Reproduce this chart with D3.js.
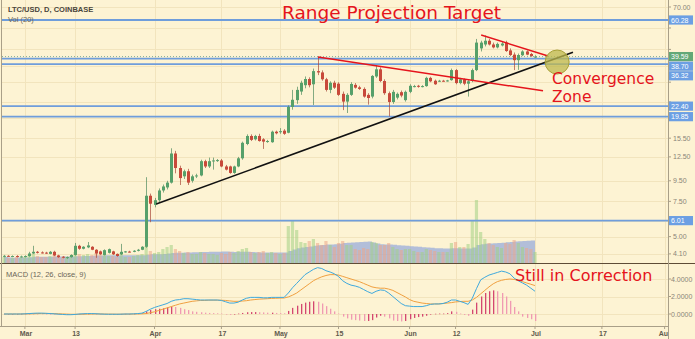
<!DOCTYPE html>
<html><head><meta charset="utf-8">
<script src="https://cdn.jsdelivr.net/npm/d3@7"></script>
<style>html,body{margin:0;padding:0;background:#fdf3d3;}svg{display:block;}</style>
</head><body><svg id="c" width="695" height="339"></svg>
<script>
// ---------- DATA ----------
const startDate = new Date(2017, 1, 24); // Feb 24, 2017 (daily candles to Jul 1)
const open  = [4.00,4.01,3.99,4.00,3.97,3.98,4.00,4.12,4.20,4.17,4.16,4.10,4.20,4.03,3.97,3.93,3.95,4.05,4.50,4.35,4.42,4.45,4.30,4.22,4.05,4.15,4.22,4.10,4.08,4.20,4.21,4.20,4.25,4.30,
4.45,8.00,7.20,7.60,8.50,8.80,9.30,13.00,11.00,10.00,10.60,9.50,10.00,10.10,11.90,11.20,11.95,12.00,12.00,11.20,11.20,10.40,11.20,12.30,14.50,15.90,15.30,15.90,15.30,14.90,14.80,16.70,
16.60,16.90,16.50,22.20,24.00,26.50,28.50,30.60,28.80,33.50,33.00,30.50,27.00,29.30,29.00,25.80,23.60,25.50,28.60,27.80,27.30,25.50,25.00,31.50,34.20,29.90,26.00,23.50,24.70,26.30,24.00,
26.40,28.10,28.30,28.00,28.20,31.00,30.00,29.80,30.00,29.90,30.20,33.90,29.20,30.50,29.00,30.00,33.90,43.50,45.50,47.50,45.50,44.00,45.00,46.50,42.50,40.50,38.00,40.20,42.00,40.80,39.30];
const high  = [4.05,4.04,4.03,4.04,4.02,4.03,4.20,4.50,4.24,4.22,4.20,4.24,4.25,4.06,4.00,3.98,4.08,4.65,4.55,4.48,4.70,4.48,4.33,4.26,4.32,4.36,4.25,4.12,4.60,4.24,4.25,4.28,4.34,4.48,
9.90,8.20,7.80,8.70,9.10,9.50,13.80,13.40,11.30,10.80,10.90,10.20,10.30,12.10,12.10,12.40,12.40,12.20,12.20,11.40,11.30,11.30,12.50,14.90,16.20,16.20,16.10,16.30,15.50,15.20,16.90,16.90,
17.40,17.20,22.60,27.00,28.00,30.00,31.50,31.20,34.50,39.50,33.80,31.00,29.80,30.00,29.50,26.50,26.00,29.50,29.20,28.30,27.80,26.00,32.00,35.80,35.00,30.50,26.50,27.00,26.20,26.80,26.80,
28.80,28.60,28.60,28.50,31.40,31.40,30.40,30.30,30.30,30.30,34.50,34.30,31.00,30.80,30.20,34.50,48.50,47.50,50.50,48.50,46.50,46.50,46.80,47.50,43.50,41.50,41.00,42.60,42.50,41.30,40.20];
const low   = [3.95,3.96,3.95,3.94,3.93,3.94,3.97,4.10,4.12,4.12,4.10,4.08,4.00,3.92,3.90,3.88,3.93,4.02,4.30,4.32,4.38,4.28,3.92,4.05,4.03,4.12,4.05,3.97,4.05,4.16,4.17,4.18,4.22,4.28,
4.40,5.90,7.00,7.45,8.30,8.60,9.20,10.35,9.05,9.70,9.05,9.30,9.80,10.00,11.00,11.00,10.80,11.80,11.10,10.70,10.30,10.30,11.10,12.10,14.30,15.00,15.10,14.90,13.70,14.70,14.70,16.20,
16.30,16.10,16.40,21.50,23.00,25.50,27.50,27.80,22.70,32.00,30.00,26.50,26.00,27.30,25.20,21.40,20.70,25.20,27.40,27.00,24.70,22.80,24.50,31.00,29.50,25.50,19.90,23.00,24.20,24.80,23.60,
26.00,27.80,27.70,27.80,28.00,29.50,28.60,29.60,29.70,29.70,30.00,28.80,28.80,28.50,25.00,29.50,33.50,42.00,44.50,45.00,43.50,43.50,44.50,41.80,39.80,33.90,34.00,39.80,40.20,39.50,39.00];
const close = [4.01,3.99,4.00,3.97,3.98,4.00,4.12,4.20,4.17,4.16,4.14,4.20,4.03,3.95,3.93,3.95,4.05,4.50,4.35,4.45,4.52,4.30,4.12,4.08,4.28,4.33,4.08,4.00,4.20,4.22,4.20,4.25,4.30,4.45,
8.00,7.30,7.60,8.50,8.90,9.30,13.00,11.00,9.80,10.60,9.30,10.00,10.10,11.90,11.20,11.90,12.00,12.05,11.20,10.80,10.40,11.20,12.30,14.70,15.90,15.20,15.90,15.00,14.90,15.00,16.70,16.40,
16.80,16.30,22.20,24.10,27.00,29.30,30.60,28.50,33.50,33.00,30.50,27.00,29.30,27.70,25.50,23.60,25.50,28.90,27.70,27.30,25.00,24.60,31.70,34.20,29.90,26.00,23.50,26.40,25.80,25.30,26.40,
28.30,28.20,28.00,28.20,31.00,29.80,28.80,30.00,29.90,30.10,33.90,29.20,30.50,29.00,29.80,33.90,46.50,46.50,47.50,45.50,44.00,45.80,46.00,42.20,40.30,38.00,40.30,42.00,40.50,39.80,39.59];
const volume = [6,5,5,6,5,6,8,9,7,6,6,7,8,7,6,6,7,11,9,8,9,8,10,8,8,7,7,6,10,6,6,7,8,9,
17,12,10,11,14,16,18,14,12,10,11,9,9,11,10,9,9,8,10,9,11,10,12,14,15,11,10,11,12,10,11,10,
9,10,37,43,33,21,20,22,24,20,18,22,18,16,20,22,18,18,14,13,15,14,21,20,18,18,20,16,14,13,14,
14,12,11,11,14,13,12,11,11,11,20,21,16,16,19,42,63,31,24,20,18,16,15,20,19,23,20,16,15,14,11];
const macd   = [0,0,0,0,0,0.02,0.05,0.08,0.1,0.1,0.08,0.05,0.02,-0.02,-0.05,-0.08,-0.08,-0.05,0,0.03,0.05,0.05,0.03,0,-0.02,-0.03,-0.03,-0.03,-0.02,0,0,0.02,0.05,0.1,
0.3,0.55,0.75,0.9,1.05,1.2,1.45,1.6,1.65,1.75,1.75,1.7,1.65,1.6,1.6,1.6,1.6,1.6,1.55,1.4,1.25,1.25,1.35,1.6,1.8,1.9,1.9,1.9,1.85,1.85,1.9,1.9,
1.9,1.9,2.4,3.0,3.5,4.0,4.5,4.8,5.1,5.3,5.2,4.95,4.8,4.6,4.3,3.8,3.5,3.3,3.2,3.05,2.8,2.55,2.35,2.6,2.75,2.7,2.4,2.0,1.6,1.2,0.95,
0.9,0.85,0.85,0.85,0.95,1.1,1.15,1.15,1.2,1.35,1.6,1.6,1.45,1.3,1.1,1.8,2.9,3.9,4.2,4.45,4.6,4.75,4.9,4.8,4.6,4.1,3.8,3.55,3.3,2.95,2.6];
const signal = [0,0,0,0,0,0.01,0.02,0.03,0.05,0.06,0.06,0.06,0.05,0.03,0.01,-0.01,-0.03,-0.03,-0.03,-0.02,-0.01,0,0.01,0.01,0,-0.01,-0.01,-0.02,-0.02,-0.01,-0.01,0,0.01,0.02,
0.05,0.15,0.25,0.4,0.55,0.7,0.85,1.0,1.15,1.25,1.35,1.45,1.5,1.55,1.55,1.58,1.58,1.58,1.57,1.55,1.5,1.45,1.45,1.48,1.52,1.6,1.65,1.7,1.72,1.75,1.78,1.8,
1.82,1.83,1.95,2.15,2.4,2.75,3.1,3.45,3.8,4.05,4.25,4.4,4.5,4.5,4.45,4.3,4.15,4.0,3.85,3.7,3.5,3.3,3.1,3.0,2.95,2.95,2.85,2.7,2.45,2.2,1.95,
1.65,1.45,1.35,1.25,1.2,1.15,1.15,1.15,1.2,1.25,1.3,1.38,1.42,1.45,1.45,1.6,1.9,2.3,2.7,3.1,3.45,3.7,3.85,3.95,4.0,3.95,3.85,3.7,3.55,3.4,3.25];
const histogram = [0,0,0,0,0.02,0.03,0.04,0.05,0.05,0.04,0.02,0,-0.02,-0.04,-0.05,-0.04,-0.02,0,0.02,0.03,0.03,0.02,0,-0.02,-0.03,-0.02,-0.01,0,0.01,0.02,0.02,0.03,0.05,0.08,
0.3,0.45,0.55,0.6,0.65,0.75,0.85,0.8,0.7,0.55,0.45,0.3,0.25,0.2,0.15,0.12,0.1,0.08,0.05,-0.05,-0.1,-0.05,0.05,0.12,0.2,0.22,0.22,0.2,0.18,0.15,0.15,0.12,
0.1,0.08,0.35,0.7,0.95,1.15,1.3,1.4,1.45,1.4,1.2,0.9,0.6,0.3,0.05,-0.3,-0.5,-0.65,-0.7,-0.75,-0.8,-0.8,-0.7,-0.4,-0.2,-0.3,-0.5,-0.75,-0.8,-0.85,-0.8,
-0.6,-0.45,-0.35,-0.3,-0.2,-0.05,0.03,0.05,0.05,0.1,0.3,0.25,0.05,-0.1,-0.2,0.5,1.3,2.0,2.4,2.6,2.7,2.6,2.4,2.0,1.5,0.8,0.3,-0.3,-0.45,-0.6,-0.8];
const priceTicks = [70, 55, 43, 35.5, 29.5, 23.5, 19.5, 15.5, 12.5, 9.5, 7.5, 6.0, 5.0, 4.1];
const levels = [60.28, 38.70, 36.32, 22.40, 19.85, 6.01];
const lastPrice = 39.59;
const macdTicks = [4, 2, 0];
const dateTicks = [[2017,2,1,"Mar"],[2017,2,13,"13"],[2017,3,1,"Apr"],[2017,3,17,"17"],[2017,4,1,"May"],[2017,4,15,"15"],[2017,5,1,"Jun"],[2017,5,12,"12"],[2017,6,1,"Jul"],[2017,6,17,"17"],[2017,7,1,"Aug"]];
// annotation anchors (date, price)
const trendLine = [[new Date(2017,3,1,10), 7.27],[new Date(2017,6,10,2), 41.6]];
const resistLine = [[new Date(2017,4,10,2), 39.4],[new Date(2017,6,2,22), 26.7]];
const wedgeLine = [[new Date(2017,5,18,3), 50.7],[new Date(2017,6,4,3), 39.9]];
const zoneCenter = [new Date(2017,6,6,7), 37.2];

// ---------- LAYOUT ----------
const svg = d3.select("#c");
const L = 2, R = 668, PT = 0, PB = 263, MT = 264, MB = 326;
const dates = close.map((_, i) => d3.timeDay.offset(startDate, i));
const x = d3.scaleTime().domain([startDate, dates[dates.length-1]]).range([4, 535]);
const y = d3.scaleLog().domain([4.10, 70]).range([253.9, 7]);
const yv = d3.scaleLinear().domain([0, 100]).range([PB, PB-100]);
const ym = d3.scaleLinear().domain([0, 4]).range([314, 279]);

svg.append("rect").attr("width",695).attr("height",339).attr("fill","#fdf3d3");
const defs = svg.append("defs");
defs.append("clipPath").attr("id","cp").append("rect").attr("x",L).attr("y",PT).attr("width",R-L).attr("height",PB-PT);
defs.append("clipPath").attr("id","cm").append("rect").attr("x",L).attr("y",MT).attr("width",R-L).attr("height",MB-MT);
defs.append("clipPath").attr("id","ca").append("rect").attr("x",0).attr("y",MB).attr("width",R).attr("height",339-MB);

// grid
const grid = svg.append("g").attr("stroke","#f2e4bd").attr("stroke-width",1);
dateTicks.forEach(d => { const xx = Math.round(x(new Date(d[0],d[1],d[2])))+0.5; if (xx<R) grid.append("line").attr("x1",xx).attr("x2",xx).attr("y1",0).attr("y2",MB); });
priceTicks.forEach(p => { const yy = Math.round(y(p))+0.5; grid.append("line").attr("x1",L).attr("x2",R).attr("y1",yy).attr("y2",yy); });
macdTicks.forEach(p => { const yy = Math.round(ym(p))+0.5; grid.append("line").attr("x1",L).attr("x2",R).attr("y1",yy).attr("y2",yy); });

// volume
const pv = svg.append("g").attr("clip-path","url(#cp)");
const volMA = volume.map((v,i) => d3.mean(volume.slice(Math.max(0,i-19), i+1)));
pv.append("path").datum(volMA)
  .attr("d", d3.area().x((d,i)=>x(dates[i])).y0(PB).y1(d=>yv(d)).curve(d3.curveStepAfter))
  .attr("fill","#8aa2db").attr("fill-opacity",0.65);
pv.selectAll("rect.v").data(volume).join("rect")
  .attr("x",(d,i)=>x(dates[i])-1.6).attr("width",3.2)
  .attr("y",d=>yv(d)).attr("height",d=>PB-yv(d))
  .attr("fill",(d,i)=> close[i]>=open[i] ? "#a3d084" : "#eda588").attr("fill-opacity",0.55);

// levels
const lv = svg.append("g").attr("clip-path","url(#cp)");
levels.forEach(p => lv.append("line").attr("x1",L).attr("x2",R).attr("y1",y(p)).attr("y2",y(p)).attr("stroke","#6f9ddb").attr("stroke-width",1.8));
lv.append("line").attr("x1",L).attr("x2",R).attr("y1",y(lastPrice)).attr("y2",y(lastPrice))
  .attr("stroke","#7fae9a").attr("stroke-width",1).attr("stroke-dasharray","1,2");

// candles
const cg = svg.append("g").attr("clip-path","url(#cp)");
const up = "#56a06a", dn = "#c8493a";
cg.selectAll("line.w").data(close).join("line")
  .attr("x1",(d,i)=>Math.round(x(dates[i]))+0.5).attr("x2",(d,i)=>Math.round(x(dates[i]))+0.5)
  .attr("y1",(d,i)=>y(high[i])).attr("y2",(d,i)=>y(low[i]))
  .attr("stroke",(d,i)=> close[i]>=open[i] ? "#4e8a5e" : "#a8483a").attr("stroke-opacity",0.7).attr("stroke-width",1);
cg.selectAll("rect.b").data(close).join("rect")
  .attr("x",(d,i)=>Math.round(x(dates[i]))-1).attr("width",3)
  .attr("y",(d,i)=>y(Math.max(open[i],close[i])))
  .attr("height",(d,i)=>Math.max(1, y(Math.min(open[i],close[i]))-y(Math.max(open[i],close[i]))))
  .attr("fill",(d,i)=> close[i]>=open[i] ? up : dn);

// annotation lines
const al = svg.append("g").attr("clip-path","url(#cp)");
const ln = d3.line().x(d=>x(d[0])).y(d=>y(d[1]));
al.append("path").datum(trendLine).attr("d",ln).attr("stroke","#111").attr("stroke-width",1.6).attr("fill","none");
al.append("path").datum(resistLine).attr("d",ln).attr("stroke","#e5141c").attr("stroke-width",1.5).attr("fill","none");
al.append("path").datum(wedgeLine).attr("d",ln).attr("stroke","#e5141c").attr("stroke-width",1.5).attr("fill","none");
al.append("circle").attr("cx",x(zoneCenter[0])).attr("cy",y(zoneCenter[1])).attr("r",12)
  .attr("fill","#bdb84e").attr("fill-opacity",0.75).attr("stroke","#a9a23a").attr("stroke-width",1);

// MACD pane
const mg = svg.append("g").attr("clip-path","url(#cm)");
mg.selectAll("rect.h").data(histogram).join("rect")
  .attr("x",(d,i)=>Math.round(x(dates[i]))).attr("width",1.3)
  .attr("y",d=>Math.min(ym(d),ym(0))).attr("height",d=>Math.max(0.6,Math.abs(ym(d)-ym(0))))
  .attr("fill",(d,i)=> (i>0 && d>=histogram[i-1]) ? "#d44770" : "#f09ab2");
mg.append("path").datum(signal).attr("d",d3.line().x((d,i)=>x(dates[i])).y(d=>ym(d))).attr("stroke","#f0a040").attr("stroke-width",1).attr("fill","none");
mg.append("path").datum(macd).attr("d",d3.line().x((d,i)=>x(dates[i])).y(d=>ym(d))).attr("stroke","#3fa9dd").attr("stroke-width",1).attr("fill","none");

// pane separator, borders
svg.append("line").attr("x1",0).attr("x2",695).attr("y1",PB+0.5).attr("y2",PB+0.5).attr("stroke","#5e4c36").attr("stroke-width",1.2);
svg.append("line").attr("x1",0).attr("x2",R).attr("y1",MB+0.5).attr("y2",MB+0.5).attr("stroke","#a99f88").attr("stroke-width",1);
svg.append("line").attr("x1",R+0.5).attr("x2",R+0.5).attr("y1",0).attr("y2",339).attr("stroke","#a99f88").attr("stroke-width",1);
svg.append("line").attr("x1",1.5).attr("x2",1.5).attr("y1",0).attr("y2",MB).attr("stroke","#a99f88").attr("stroke-width",1);

// level labels (stacked to avoid overlap)
const labs = levels.map(p=>({p, c:"#6c9fe3"})).concat([{p:lastPrice, c:"#63a877"}]).sort((a,b)=>y(a.p)-y(b.p));
let lastY = -100;
labs.forEach(l => { l.yy = Math.max(y(l.p), lastY+9.6); lastY = l.yy; });

// right axis labels (ticks hidden under a level label are skipped)
const ax = svg.append("g").attr("font-family","Liberation Sans, Arial, sans-serif").attr("font-size",7).attr("fill","#8a8478");
priceTicks.forEach(p => { const yy=y(p);
  ax.append("line").attr("x1",R).attr("x2",R+3).attr("y1",yy).attr("y2",yy).attr("stroke","#a99f88");
  if (labs.every(l => Math.abs(l.yy - yy) > 9)) ax.append("text").attr("x",673).attr("y",yy+2.5).text(p.toFixed(2)); });
macdTicks.forEach(p => { const yy=ym(p);
  ax.append("line").attr("x1",R).attr("x2",R+3).attr("y1",yy).attr("y2",yy).attr("stroke","#a99f88");
  ax.append("text").attr("x",671).attr("y",yy+2.5).text(p.toFixed(4)); });
labs.forEach(l => {
  ax.append("rect").attr("x",R+1).attr("y",l.yy-4.6).attr("width",24).attr("height",9.2).attr("fill",l.c);
  ax.append("text").attr("x",R+3).attr("y",l.yy+2.5).attr("fill","#fff").text(l.p.toFixed(2)); });

// bottom axis
const bx = svg.append("g").attr("clip-path","url(#ca)").attr("font-family","Liberation Sans, Arial, sans-serif").attr("font-size",7).attr("font-weight","bold").attr("fill","#5f5a4d").attr("text-anchor","middle");
dateTicks.forEach(d => { const xx = x(new Date(d[0],d[1],d[2]));
  bx.append("line").attr("x1",xx).attr("x2",xx).attr("y1",MB).attr("y2",MB+3).attr("stroke","#a99f88");
  bx.append("text").attr("x",xx+1).attr("y",336).text(d[3]); });

// legends
const tg = svg.append("g").attr("font-family","Liberation Sans, Arial, sans-serif").attr("font-size",7.5);
tg.append("text").attr("x",8).attr("y",12).attr("font-weight","bold").attr("fill","#4a463c").text("LTC/USD, D, COINBASE");
tg.append("text").attr("x",8).attr("y",22).attr("fill","#6b6658").text("Vol (20)");
tg.append("text").attr("x",6).attr("y",277).attr("fill","#6b6658").text("MACD (12, 26, close, 9)");

// annotations text
const an = svg.append("g").attr("font-family","DejaVu Sans, Verdana, sans-serif").attr("fill","#e5141c");
an.append("text").attr("x",282).attr("y",19).attr("font-size",18.5).text("Range Projection Target");
an.append("text").attr("x",552).attr("y",83.5).attr("font-size",15.5).text("Convergence");
an.append("text").attr("x",552).attr("y",101.5).attr("font-size",15.5).text("Zone");
an.append("text").attr("x",515).attr("y",281).attr("font-size",16).text("Still in Correction");
</script></body></html>
